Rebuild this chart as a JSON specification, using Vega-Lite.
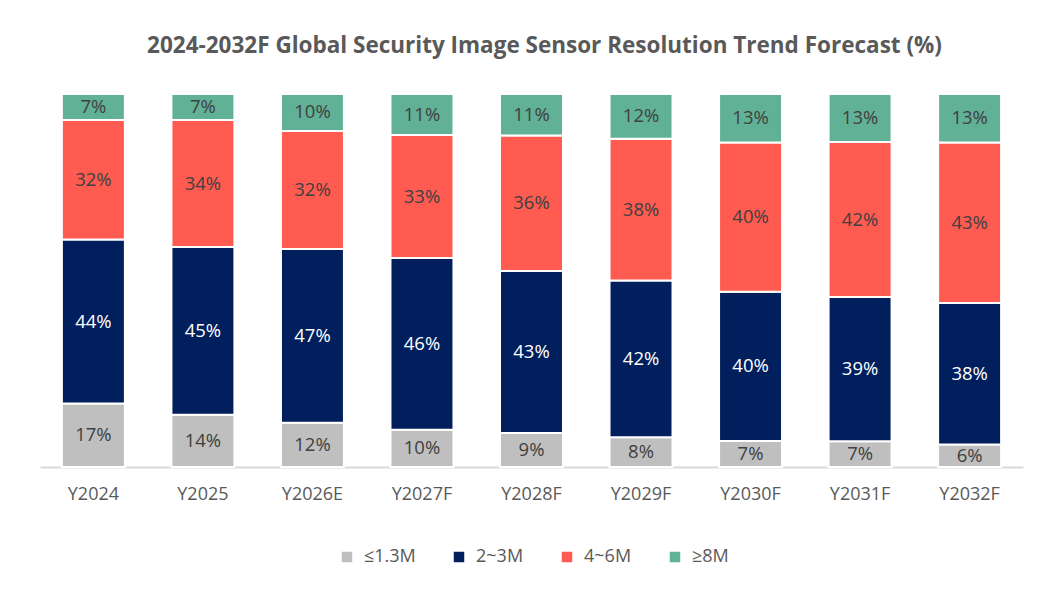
{
  "$schema": "https://vega.github.io/schema/vega-lite/v6.json",
  "autosize": {"type": "none"},
  "width": 983,
  "height": 373,
  "padding": {"left": 40, "top": 94, "right": 36, "bottom": 127},
  "background": "white",
  "config": {
    "view": {"stroke": null},
    "font": "Open Sans"
  },
  "title": {
    "text": "2024-2032F Global Security Image Sensor Resolution Trend Forecast (%)",
    "font": "Open Sans",
    "fontSize": 22.5,
    "fontWeight": "bold",
    "color": "#595959",
    "anchor": "middle",
    "dx": 13,
    "offset": 36
  },
  "data": {
    "values": [
      {"year": "Y2024", "series": "≤1.3M", "k": 1, "share": 0.17},
      {"year": "Y2024", "series": "2~3M", "k": 2, "share": 0.44},
      {"year": "Y2024", "series": "4~6M", "k": 3, "share": 0.32},
      {"year": "Y2024", "series": "≥8M", "k": 4, "share": 0.07},
      {"year": "Y2025", "series": "≤1.3M", "k": 1, "share": 0.14},
      {"year": "Y2025", "series": "2~3M", "k": 2, "share": 0.45},
      {"year": "Y2025", "series": "4~6M", "k": 3, "share": 0.34},
      {"year": "Y2025", "series": "≥8M", "k": 4, "share": 0.07},
      {"year": "Y2026E", "series": "≤1.3M", "k": 1, "share": 0.12},
      {"year": "Y2026E", "series": "2~3M", "k": 2, "share": 0.47},
      {"year": "Y2026E", "series": "4~6M", "k": 3, "share": 0.32},
      {"year": "Y2026E", "series": "≥8M", "k": 4, "share": 0.10},
      {"year": "Y2027F", "series": "≤1.3M", "k": 1, "share": 0.10},
      {"year": "Y2027F", "series": "2~3M", "k": 2, "share": 0.46},
      {"year": "Y2027F", "series": "4~6M", "k": 3, "share": 0.33},
      {"year": "Y2027F", "series": "≥8M", "k": 4, "share": 0.11},
      {"year": "Y2028F", "series": "≤1.3M", "k": 1, "share": 0.09},
      {"year": "Y2028F", "series": "2~3M", "k": 2, "share": 0.43},
      {"year": "Y2028F", "series": "4~6M", "k": 3, "share": 0.36},
      {"year": "Y2028F", "series": "≥8M", "k": 4, "share": 0.11},
      {"year": "Y2029F", "series": "≤1.3M", "k": 1, "share": 0.08},
      {"year": "Y2029F", "series": "2~3M", "k": 2, "share": 0.42},
      {"year": "Y2029F", "series": "4~6M", "k": 3, "share": 0.38},
      {"year": "Y2029F", "series": "≥8M", "k": 4, "share": 0.12},
      {"year": "Y2030F", "series": "≤1.3M", "k": 1, "share": 0.07},
      {"year": "Y2030F", "series": "2~3M", "k": 2, "share": 0.40},
      {"year": "Y2030F", "series": "4~6M", "k": 3, "share": 0.40},
      {"year": "Y2030F", "series": "≥8M", "k": 4, "share": 0.13},
      {"year": "Y2031F", "series": "≤1.3M", "k": 1, "share": 0.07},
      {"year": "Y2031F", "series": "2~3M", "k": 2, "share": 0.39},
      {"year": "Y2031F", "series": "4~6M", "k": 3, "share": 0.42},
      {"year": "Y2031F", "series": "≥8M", "k": 4, "share": 0.13},
      {"year": "Y2032F", "series": "≤1.3M", "k": 1, "share": 0.06},
      {"year": "Y2032F", "series": "2~3M", "k": 2, "share": 0.38},
      {"year": "Y2032F", "series": "4~6M", "k": 3, "share": 0.43},
      {"year": "Y2032F", "series": "≥8M", "k": 4, "share": 0.13}
    ]
  },
  "encoding": {
    "x": {
      "field": "year",
      "type": "nominal",
      "sort": null,
      "scale": {"paddingInner": 0.425, "paddingOuter": 0.2},
      "axis": {
        "title": null,
        "labelAngle": 0,
        "labelFont": "Open Sans",
        "labelFontSize": 18,
        "labelColor": "#595959",
        "labelPadding": 18,
        "ticks": false,
        "domainColor": "#D9D9D9",
        "domainWidth": 2
      }
    },
    "y": {
      "field": "share",
      "type": "quantitative",
      "stack": "normalize",
      "axis": null
    },
    "order": {"field": "k", "type": "quantitative", "sort": "ascending"}
  },
  "layer": [
    {
      "mark": {"type": "bar", "stroke": "white", "strokeWidth": 2},
      "encoding": {
        "color": {
          "field": "series",
          "type": "nominal",
          "sort": ["≤1.3M", "2~3M", "4~6M", "≥8M"],
          "scale": {
            "domain": ["≤1.3M", "2~3M", "4~6M", "≥8M"],
            "range": ["#BFBFBF", "#001F5C", "#FF5B50", "#61B196"]
          },
          "legend": {
            "title": null,
            "orient": "none",
            "direction": "horizontal",
            "legendX": 298,
            "legendY": 454,
            "symbolType": "square",
            "symbolSize": 110,
            "symbolStrokeWidth": 0,
            "labelFont": "Open Sans",
            "labelFontSize": 18,
            "labelColor": "#595959",
            "labelOffset": 8,
            "columnPadding": 34,
            "padding": 0
          }
        }
      }
    },
    {
      "mark": {"type": "text", "font": "Open Sans", "fontSize": 18.5, "baseline": "middle"},
      "encoding": {
        "y": {
          "field": "share",
          "type": "quantitative",
          "stack": "normalize",
          "bandPosition": 0.5,
          "axis": null
        },
        "detail": {"field": "series", "type": "nominal"},
        "text": {"field": "share", "type": "quantitative", "format": ".0%"},
        "color": {
          "condition": {"test": "datum.series === '2~3M'", "value": "white"},
          "value": "#404040"
        }
      }
    }
  ]
}
